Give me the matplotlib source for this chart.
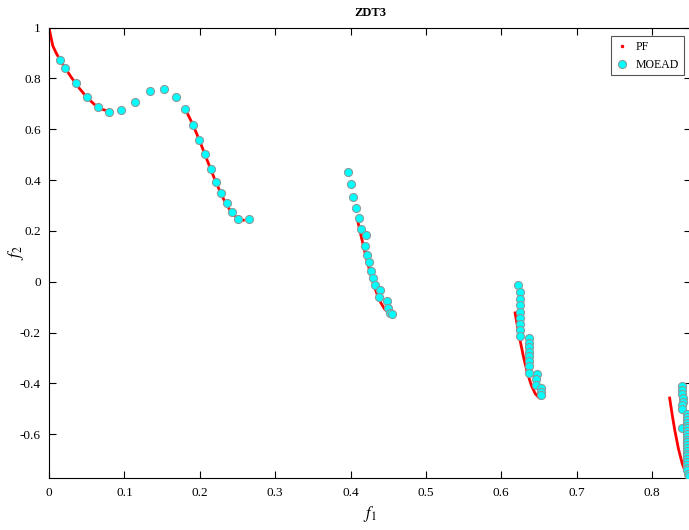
import matplotlib.pyplot as plt
import numpy as np

plt.rcParams['font.family'] = ['Liberation Serif', 'DejaVu Serif']
plt.rcParams['mathtext.fontset'] = 'stix'

# true Pareto front of ZDT3, one list per segment
pf_x = [
    [0.0, 0.005, 0.01, 0.02, 0.03, 0.04, 0.05, 0.06, 0.07, 0.08, 0.083],
    [0.182, 0.186, 0.19, 0.195, 0.20, 0.205, 0.21, 0.22, 0.23, 0.24, 0.245, 0.25, 0.2545, 0.2578],
    [0.4093, 0.415, 0.42, 0.425, 0.43, 0.435, 0.44, 0.445, 0.45, 0.4539],
    [0.6183, 0.6215, 0.625, 0.63, 0.635, 0.64, 0.645, 0.65, 0.6525],
    [0.8233, 0.8265, 0.83, 0.835, 0.84, 0.845, 0.8518],
]
pf_y = [
    [1.0, 0.9285, 0.8969, 0.8468, 0.8025, 0.762, 0.7264, 0.698, 0.6788, 0.670, 0.6696],
    [0.6708, 0.648, 0.6228, 0.5889, 0.5528, 0.5152, 0.4768, 0.4017, 0.3343, 0.2818, 0.263, 0.25, 0.2435, 0.2422],
    [0.2423, 0.1674, 0.105, 0.0476, -0.0036, -0.0471, -0.0817, -0.1067, -0.1208, -0.1242],
    [-0.1227, -0.1768, -0.2325, -0.3034, -0.3627, -0.4087, -0.4402, -0.4562, -0.4584],
    [-0.4574, -0.5199, -0.5825, -0.6578, -0.7154, -0.7541, -0.7733],
]

# MOEAD solutions
moead_x = [
    0.015, 0.0212, 0.0358, 0.050, 0.0646, 0.0792, 0.0951, 0.114, 0.134, 0.153, 0.168,
    0.181, 0.191, 0.199, 0.207, 0.2144, 0.2215, 0.228, 0.2357, 0.2427, 0.251, 0.2657,
    0.3966, 0.4005, 0.4036, 0.4067, 0.411, 0.4138, 0.4204, 0.4195, 0.4218, 0.4248,
    0.4266, 0.4297, 0.4328, 0.4386, 0.4381, 0.4487, 0.4492, 0.4523, 0.4545,
    0.6225, 0.6251, 0.6251, 0.6251, 0.6251, 0.6251, 0.6251, 0.6251, 0.6251,
    0.6362, 0.6362, 0.6362, 0.6362, 0.6362, 0.6362, 0.6362, 0.6362,
    0.6468, 0.6459, 0.6455, 0.652, 0.652, 0.652,
    0.840, 0.8395, 0.840, 0.8405, 0.8405, 0.840, 0.8398, 0.8395,
    0.8457, 0.8457, 0.8457, 0.8457, 0.8457, 0.8457, 0.8457, 0.8457, 0.8457, 0.8457,
    0.8457, 0.8457, 0.8457, 0.8457, 0.8457, 0.8457, 0.8457, 0.8457, 0.8457, 0.8457,
    0.8457, 0.848, 0.8495,
]
moead_y = [
    0.872, 0.842, 0.780, 0.725, 0.688, 0.669, 0.674, 0.708, 0.749, 0.758, 0.728,
    0.678, 0.617, 0.557, 0.501, 0.444, 0.393, 0.350, 0.310, 0.274, 0.246, 0.246,
    0.430, 0.384, 0.334, 0.289, 0.249, 0.209, 0.182, 0.140, 0.106, 0.076,
    0.042, 0.015, -0.011, -0.031, -0.061, -0.076, -0.103, -0.121, -0.127,
    -0.014, -0.040, -0.066, -0.093, -0.119, -0.143, -0.166, -0.190, -0.213,
    -0.221, -0.239, -0.258, -0.276, -0.294, -0.313, -0.331, -0.357,
    -0.361, -0.381, -0.405, -0.418, -0.434, -0.447,
    -0.409, -0.425, -0.441, -0.457, -0.472, -0.486, -0.500, -0.575,
    -0.521, -0.532, -0.543, -0.554, -0.566, -0.577, -0.588, -0.599, -0.610, -0.621,
    -0.632, -0.643, -0.654, -0.665, -0.676, -0.687, -0.698, -0.709, -0.720, -0.731,
    -0.742, -0.755, -0.765,
]

fig = plt.figure(figsize=(6.89, 5.30), dpi=100)
ax = fig.add_axes([0.0711, 0.0975, 0.932, 0.8505])

for xs, ys in zip(pf_x, pf_y):
    ax.plot(xs, ys, '-', color='red', lw=2.0, zorder=2)
ax.plot([], [], '.', color='red', ms=3, label='PF')
ax.plot(moead_x, moead_y, 'o', ls='none', ms=5.8, mfc='#00FFFF', mec='#8a9a9a',
        mew=0.8, label='MOEAD', zorder=3)

ax.set_xlim(0, 0.8518)
ax.set_ylim(-0.7733, 1)
ax.set_xticks(np.arange(0, 0.81, 0.1))
ax.set_xticklabels(['0', '0.1', '0.2', '0.3', '0.4', '0.5', '0.6', '0.7', '0.8'])
ax.set_yticks([-0.6, -0.4, -0.2, 0, 0.2, 0.4, 0.6, 0.8, 1])
ax.set_yticklabels(['-0.6', '-0.4', '-0.2', '0', '0.2', '0.4', '0.6', '0.8', '1'])
ax.tick_params(direction='in', top=True, right=True, length=5, width=0.8,
               labelsize=9.5, pad=6)
for s in ax.spines.values():
    s.set_linewidth(0.8)

ax.set_title('ZDT3', fontsize=9, fontweight='bold', pad=8)
ax.set_xlabel('$f_1$', fontsize=12, labelpad=4)
ax.set_ylabel('$f_2$', fontsize=12)
ax.yaxis.set_label_coords(-0.036, 0.5)

leg = ax.legend(loc='upper right', bbox_to_anchor=(0.989, 0.981), fontsize=8.5,
                fancybox=False, edgecolor='#555555', framealpha=1,
                handlelength=1.0, handletextpad=0.7, borderpad=0.4,
                labelspacing=0.5, borderaxespad=0)
leg.get_frame().set_linewidth(0.8)

fig.savefig('out.png', dpi=100)
